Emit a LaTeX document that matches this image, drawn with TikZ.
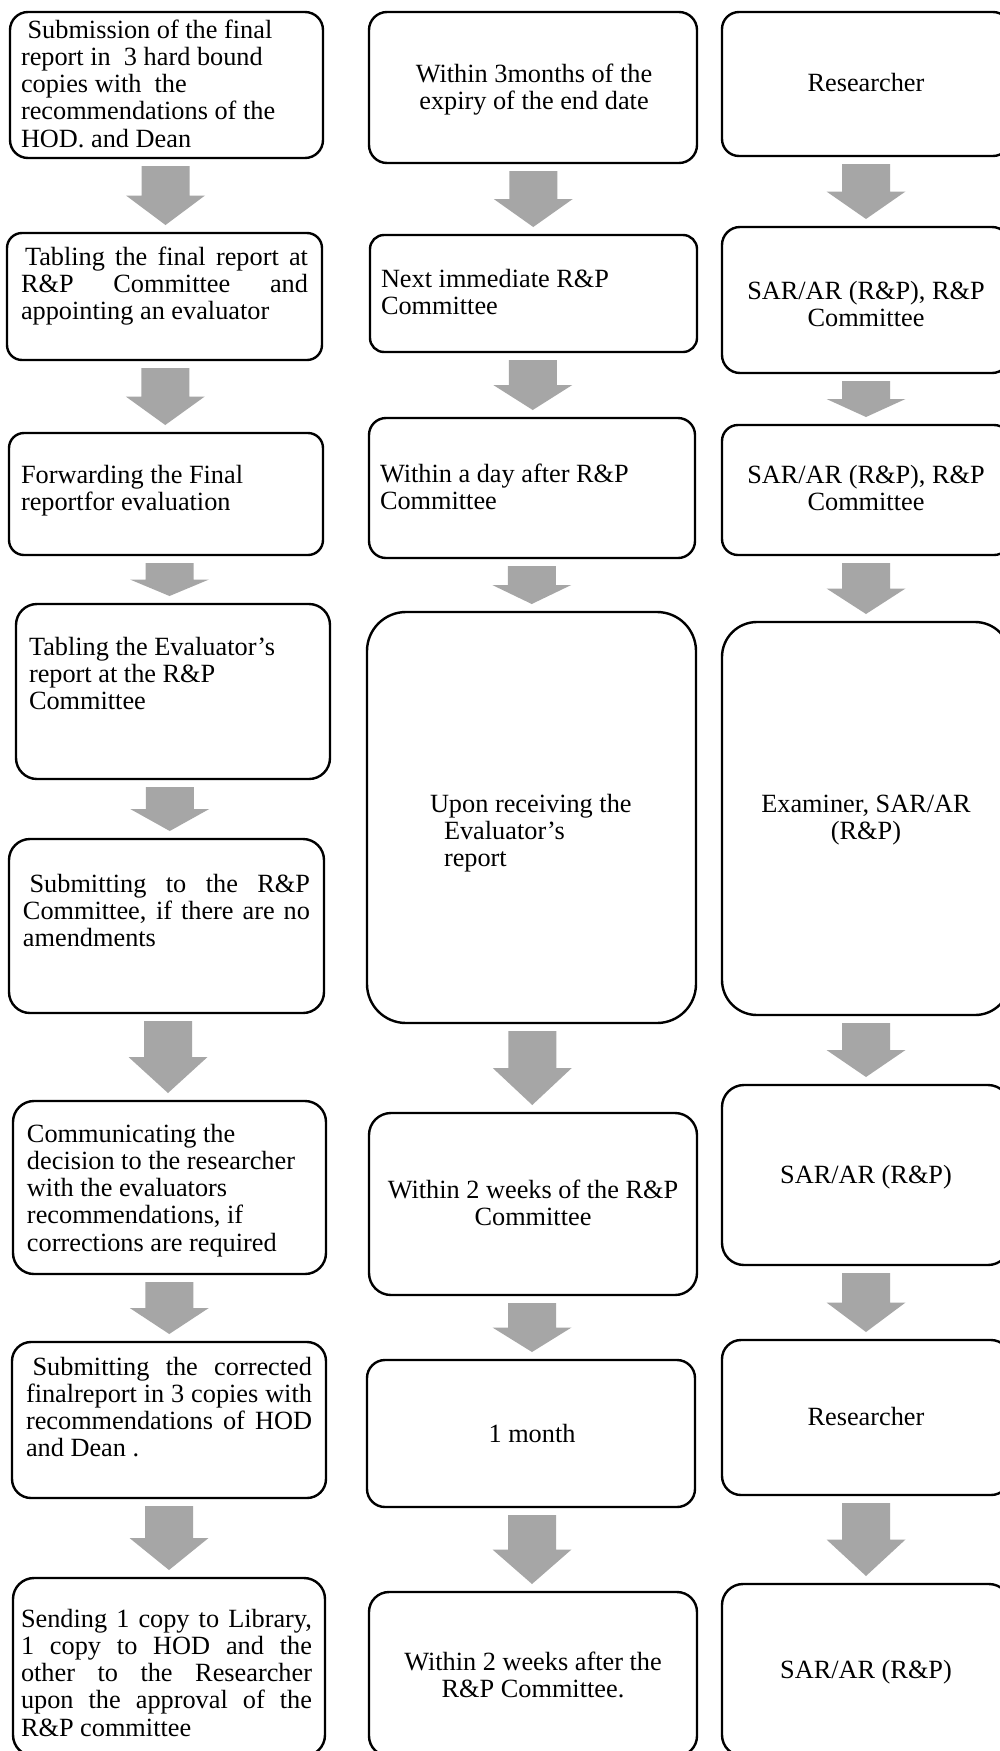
\documentclass[tikz,border=0pt]{standalone}
\usepackage{fontspec}
\setmainfont{Liberation Serif}
\usetikzlibrary{calc}
\definecolor{flowgray}{RGB}{166,166,166}

\tikzset{
  stage/.style={draw=black, line width=2.4pt, rectangle, inner sep=0pt, outer sep=0pt, anchor=north west},
  boxtext/.style={inner sep=0pt, outer sep=0pt, font={\fontsize{26.3}{27.3}\selectfont}},
  txtL/.style={boxtext, anchor=north west, align=left},
  txtC/.style={boxtext, anchor=north, align=center},
}

% rounded stage box: name, x1, y1, x2, y2, corner radius (y grows downwards)
\newcommand\stagebox[6]{%
  \node[stage, rounded corners=#6pt, minimum width={#4-#2}, minimum height={#5-#3}] (#1) at (#2,#3) {};}

% justified line of a given width
\newcommand\jline[2]{\makebox[#1pt][s]{#2}}

% grey block arrow between two stacked boxes
\newcommand\flowarrow[2]{%
  \coordinate (fa-m) at ($(#1.south)!0.5!(#2.north)$);
  \coordinate (fa-t) at ($(fa-m |- #1.south)+(0,8)$);
  \coordinate (fa-e) at ($(fa-m |- #2.north)-(0,8)$);
  \coordinate (fa-h) at ($(fa-t)!0.5!(fa-e)$);
  \fill[flowgray] ([xshift=-24pt]fa-t) -- ([xshift=24pt]fa-t) -- ([xshift=24pt]fa-h)
    -- ([xshift=39.5pt]fa-h) -- (fa-e) -- ([xshift=-39.5pt]fa-h) -- ([xshift=-24pt]fa-h) -- cycle;}

\begin{document}
\begin{tikzpicture}[x=1pt, y=-1pt]
\useasboundingbox (0,0) rectangle (1000,1751);
\fill[white] (0,0) rectangle (1000,1751);
\clip (0,0) rectangle (1000,1751);

% left column: activities
\stagebox{L1}{10}{12}{323}{158}{18}
\stagebox{L2}{7}{233}{322}{360}{15}
\stagebox{L3}{9}{433}{323}{555}{15}
\stagebox{L4}{16}{604}{330}{779}{21}
\stagebox{L5}{9}{839}{324}{1013}{21}
\stagebox{L6}{13}{1101}{326}{1274}{21}
\stagebox{L7}{12}{1342}{326}{1498}{19}
\stagebox{L8}{13}{1578}{325}{1756}{21}

% middle column: time frames
\stagebox{M1}{369}{12}{697}{163}{18}
\stagebox{M2}{370}{235}{697}{352}{14}
\stagebox{M3}{369}{418}{695}{558}{17}
\stagebox{M4}{367}{612}{696}{1023}{39}
\stagebox{M5}{369}{1113}{697}{1295}{22}
\stagebox{M6}{367}{1360}{695}{1507}{18}
\stagebox{M7}{369}{1592}{697}{1756}{20}

% right column: responsible persons
\stagebox{R1}{722}{12}{1010}{156}{17}
\stagebox{R2}{722}{227}{1010}{373}{18}
\stagebox{R3}{722}{425}{1010}{555}{16}
\stagebox{R4}{722}{622}{1010}{1015}{35}
\stagebox{R5}{722}{1085}{1010}{1265}{22}
\stagebox{R6}{722}{1340}{1010}{1495}{19}
\stagebox{R7}{722}{1584}{1010}{1756}{21}

% texts of the left column
\node[txtL] (L1t) at (21,18.9) {\strut\hspace*{6.6pt}Submission of the final\\report in\ \ 3 hard bound\\copies with\ \ the\\recommendations of the\\HOD. and Dean};
\node[txtL] (L2t) at (21,245.9) {\strut\jline{287}{\hspace*{4pt}Tabling the final report at}\\\jline{287}{R\&P Committee and}\\appointing an evaluator};
\node[txtL] (L3t) at (21,463.9) {\strut Forwarding the Final\\reportfor evaluation};
\node[txtL] (L4t) at (29,635.9) {\strut Tabling the Evaluator’s\\report at the R\&P\\Committee};
\node[txtL] (L5t) at (23,872.9) {\strut\jline{287}{\hspace*{6.6pt}Submitting to the R\&P}\\\jline{287}{Committee, if there are no}\\amendments};
\node[txtL] (L6t) at (27,1122.9) {\strut Communicating the\\decision to the researcher\\with the evaluators\\recommendations, if\\corrections are required};
\node[txtL] (L7t) at (26,1355.9) {\strut\jline{286}{\hspace*{6.6pt}Submitting the corrected}\\\jline{286}{finalreport in 3 copies with}\\\jline{286}{recommendations of HOD}\\and Dean .};
\node[txtL] (L8t) at (21,1607.9) {\strut\jline{291}{Sending 1 copy to Library,}\\\jline{291}{1 copy to HOD and the}\\\jline{291}{other to the Researcher}\\\jline{291}{upon the approval of the}\\R\&P committee};

% texts of the middle column
\node[txtC] (M1t) at (534,62.9) {\strut Within 3months of the\\expiry of the end date};
\node[txtL] (M2t) at (381,267.9) {\strut Next immediate R\&P\\Committee};
\node[txtL] (M3t) at (380,462.9) {\strut Within a day after R\&P\\Committee};
\node[txtL] (M4t) at (430,792.9) {\strut Upon receiving the\\\hspace*{14pt}Evaluator’s\\\hspace*{14pt}report};
\node[txtC] (M5t) at (533,1178.9) {\strut Within 2 weeks of the R\&P\\Committee};
\node[txtC] (M6t) at (532,1422.9) {\strut 1 month};
\node[txtC] (M7t) at (533,1650.9) {\strut Within 2 weeks after the\\R\&P Committee.};

% texts of the right column
\node[txtC] (R1t) at (866,71.9) {\strut Researcher};
\node[txtC] (R2t) at (866,279.9) {\strut SAR/AR (R\&P), R\&P\\Committee};
\node[txtC] (R3t) at (866,463.9) {\strut SAR/AR (R\&P), R\&P\\Committee};
\node[txtC] (R4t) at (866,792.9) {\strut Examiner, SAR/AR\\(R\&P)};
\node[txtC] (R5t) at (866,1163.9) {\strut SAR/AR (R\&P)};
\node[txtC] (R6t) at (866,1405.9) {\strut Researcher};
\node[txtC] (R7t) at (866,1658.9) {\strut SAR/AR (R\&P)};

% block arrows
\flowarrow{L1}{L2}
\flowarrow{L2}{L3}
\flowarrow{L3}{L4}
\flowarrow{L4}{L5}
\flowarrow{L5}{L6}
\flowarrow{L6}{L7}
\flowarrow{L7}{L8}
\flowarrow{M1}{M2}
\flowarrow{M2}{M3}
\flowarrow{M3}{M4}
\flowarrow{M4}{M5}
\flowarrow{M5}{M6}
\flowarrow{M6}{M7}
\flowarrow{R1}{R2}
\flowarrow{R2}{R3}
\flowarrow{R3}{R4}
\flowarrow{R4}{R5}
\flowarrow{R5}{R6}
\flowarrow{R6}{R7}
\end{tikzpicture}
\end{document}
